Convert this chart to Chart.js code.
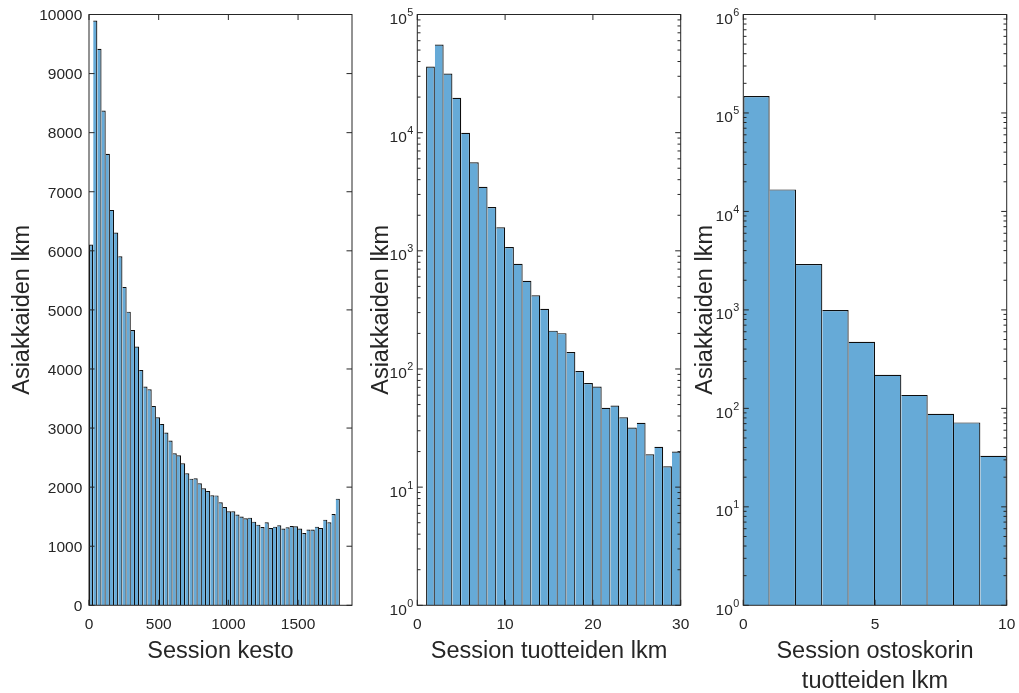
<!DOCTYPE html>
<html>
<head>
<meta charset="utf-8">
<script src="https://cdn.jsdelivr.net/npm/chart.js@4/dist/chart.umd.min.js"></script>
<style>
  html, body { margin: 0; padding: 0; background: #fff; overflow: hidden; }
  canvas { position: absolute; top: 0; }
</style>
</head>
<body>
<canvas id="c1" width="359" height="693" style="left:0px"></canvas>
<canvas id="c2" width="360" height="693" style="left:359px"></canvas>
<canvas id="c3" width="360" height="693" style="left:683px"></canvas>
<script>
// Session kesto - bins of 30 (bin start)
const kestoBins = [0, 30, 60, 90, 120, 150, 180, 210, 240, 270, 300, 330, 360, 390, 420, 450, 480, 510, 540, 570,
  600, 630, 660, 690, 720, 750, 780, 810, 840, 870, 900, 930, 960, 990, 1020, 1050, 1080, 1110, 1140, 1170,
  1200, 1230, 1260, 1290, 1320, 1350, 1380, 1410, 1440, 1470, 1500, 1530, 1560, 1590, 1620, 1650, 1680, 1710, 1740, 1770];
const kestoCounts = [6106, 9899, 9419, 8375, 7641, 6693, 6309, 5909, 5389, 4970, 4661, 4379, 3984, 3702, 3657, 3375, 3183, 3070, 2923, 2788,
  2573, 2539, 2404, 2235, 2144, 2150, 2065, 1981, 1935, 1862, 1860, 1744, 1664, 1591, 1590, 1535, 1501, 1473, 1484, 1416,
  1365, 1326, 1405, 1309, 1331, 1354, 1298, 1320, 1343, 1337, 1298, 1224, 1281, 1281, 1331, 1309, 1450, 1405, 1546, 1805];

// Session tuotteiden lkm - bins of 1
const tuoteBins = [1, 2, 3, 4, 5, 6, 7, 8, 9, 10, 11, 12, 13, 14, 15, 16, 17, 18, 19, 20, 21, 22, 23, 24, 25, 26, 27, 28, 29];
const tuoteCounts = [36300, 55700, 31700, 19700, 9960, 5620, 3480, 2350, 1585, 1075, 776, 557, 420, 323, 211,
  201, 139, 96, 76, 71, 47, 49, 39, 32, 35, 19, 22, 15, 20];

// Session ostoskorin tuotteiden lkm
const koriBins = [0, 1, 2, 3, 4, 5, 6, 7, 8, 9];
const koriCounts = [148700, 16740, 2920, 995, 474, 219, 137, 88, 72, 33];

const kestoXTicks = [0, 500, 1000, 1500];
const kestoYTicks = [0, 1000, 2000, 3000, 4000, 5000, 6000, 7000, 8000, 9000, 10000];
const tuoteXTicks = [0, 10, 20, 30];
const koriXTicks = [0, 5, 10];
const logMinors = [1, 2, 3, 4, 5, 6, 7, 8, 9];

const FONT = '"Liberation Sans", Arial, Helvetica, sans-serif';
const TXT = '#262626';
const BAR = 'rgb(102, 170, 215)';

function logTicks(maxExp) {
  const out = [];
  for (let e = 0; e <= maxExp; e++) {
    logMinors.forEach(m => {
      const v = m * Math.pow(10, e);
      if (v <= Math.pow(10, maxExp)) out.push({ value: v, major: m === 1 });
    });
  }
  return out;
}

// MATLAB-like box with inward ticks
const axisBox = {
  id: 'axisBox',
  afterDatasetsDraw(chart) {
    const { ctx, chartArea: a, scales: { x, y } } = chart;
    ctx.save();
    ctx.strokeStyle = TXT;
    ctx.lineWidth = 1;
    ctx.beginPath();
    x.ticks.forEach(t => {
      const px = x.getPixelForValue(t.value);
      ctx.moveTo(px, a.bottom); ctx.lineTo(px, a.bottom - 5.5);
      ctx.moveTo(px, a.top); ctx.lineTo(px, a.top + 5.5);
    });
    y.ticks.forEach(t => {
      const py = y.getPixelForValue(t.value);
      const len = t.major === false ? 3.2 : 5.5;
      ctx.moveTo(a.left, py); ctx.lineTo(a.left + len, py);
      ctx.moveTo(a.right, py); ctx.lineTo(a.right - len, py);
    });
    ctx.stroke();
    ctx.strokeRect(a.left, a.top, a.right - a.left, a.bottom - a.top);
    ctx.restore();
  }
};

// 10^n labels with a raised exponent, placed at the log scale's tick pixels
const powerLabels = {
  id: 'powerLabels',
  afterDraw(chart) {
    const y = chart.scales.y;
    if (y.type !== 'logarithmic') return;
    const { ctx, chartArea: a } = chart;
    ctx.save();
    ctx.fillStyle = TXT;
    ctx.textBaseline = 'alphabetic';
    ctx.textAlign = 'right';
    y.ticks.forEach(t => {
      if (!t.major) return;
      const e = Math.round(Math.log10(t.value));
      const py = y.getPixelForValue(t.value);
      const xEnd = a.left - 4;
      ctx.font = '10.8px ' + FONT;
      const ew = ctx.measureText(String(e)).width;
      ctx.fillText(String(e), xEnd, py + 1.5);
      ctx.font = '15.5px ' + FONT;
      ctx.fillText('10', xEnd - ew - 0.5, py + 9.5);
    });
    ctx.restore();
  }
};

function makeHist(id, o) {
  const half = o.binWidth / 2;
  return new Chart(document.getElementById(id), {
    type: 'bar',
    data: {
      datasets: [{
        data: o.bins.map((b, i) => ({ x: b + half, y: o.counts[i] })),
        backgroundColor: BAR,
        borderColor: '#0d0d0d',
        borderWidth: c => ({ top: 1.2, right: 1.2, left: c.dataIndex === 0 ? 1.2 : 0, bottom: 0 }),
        borderSkipped: false,
        inflateAmount: 0,
        barPercentage: 1,
        categoryPercentage: 1
      }]
    },
    options: {
      responsive: false,
      animation: false,
      layout: { padding: { top: 14.5, right: o.rightPad, left: 0, bottom: 0 } },
      plugins: { legend: { display: false }, tooltip: { enabled: false } },
      scales: {
        x: {
          type: 'linear',
          offset: false,
          min: o.xMin, max: o.xMax,
          grid: { display: false, drawTicks: false, offset: false },
          border: { display: false },
          afterBuildTicks: s => { s.ticks = o.xTicks.map(v => ({ value: v })); },
          afterFit: s => { s.height = 87.7; s.paddingLeft = 0; s.paddingRight = 0; },
          ticks: {
            font: { family: FONT, size: 15.5 }, color: TXT, padding: 10, maxRotation: 0,
            callback: v => String(v)
          },
          title: {
            display: true, text: o.xTitle, color: TXT,
            font: { family: FONT, size: 23.5, lineHeight: o.xTitleLH },
            padding: { top: 0, bottom: o.xTitlePad }
          }
        },
        y: {
          type: o.log ? 'logarithmic' : 'linear',
          min: o.yMin, max: o.yMax,
          grid: { display: false, drawTicks: false },
          border: { display: false },
          afterBuildTicks: s => { s.ticks = o.log ? logTicks(o.maxExp) : o.yTicks.map(v => ({ value: v })); },
          afterFit: s => { s.width = o.yWidth; s.paddingTop = 0; s.paddingBottom = 0; },
          ticks: {
            display: !o.log,
            autoSkip: false, labelOffset: 1.5,
            font: { family: FONT, size: 15.5 }, color: TXT, padding: 6.7,
            callback: v => String(v)
          },
          title: {
            display: true, text: 'Asiakkaiden lkm', color: TXT,
            font: { family: FONT, size: 23.5 },
            padding: { top: 8.4, bottom: 0 }
          }
        }
      }
    },
    plugins: [axisBox, powerLabels]
  });
}

makeHist('c1', {
  bins: kestoBins, counts: kestoCounts, binWidth: 30,
  xMin: 0, xMax: 1887, xTicks: kestoXTicks, xTitle: 'Session kesto', xTitleLH: 1.2, xTitlePad: 26.9,
  log: false, yMin: 0, yMax: 10000, yTicks: kestoYTicks, yWidth: 89, rightPad: 7
});

makeHist('c2', {
  bins: tuoteBins, counts: tuoteCounts, binWidth: 1,
  xMin: 0, xMax: 30, xTicks: tuoteXTicks, xTitle: 'Session tuotteiden lkm', xTitleLH: 1.2, xTitlePad: 27.6,
  log: true, yMin: 1, yMax: 1e5, maxExp: 5, yWidth: 58.3, rightPad: 38.3
});

makeHist('c3', {
  bins: koriBins, counts: koriCounts, binWidth: 1,
  xMin: 0, xMax: 10, xTicks: koriXTicks, xTitle: ['Session ostoskorin', 'tuotteiden lkm'], xTitleLH: 1.277, xTitlePad: -4,
  log: true, yMin: 1, yMax: 1e6, maxExp: 6, yWidth: 60.3, rightPad: 36.3
});
</script>
</body>
</html>
